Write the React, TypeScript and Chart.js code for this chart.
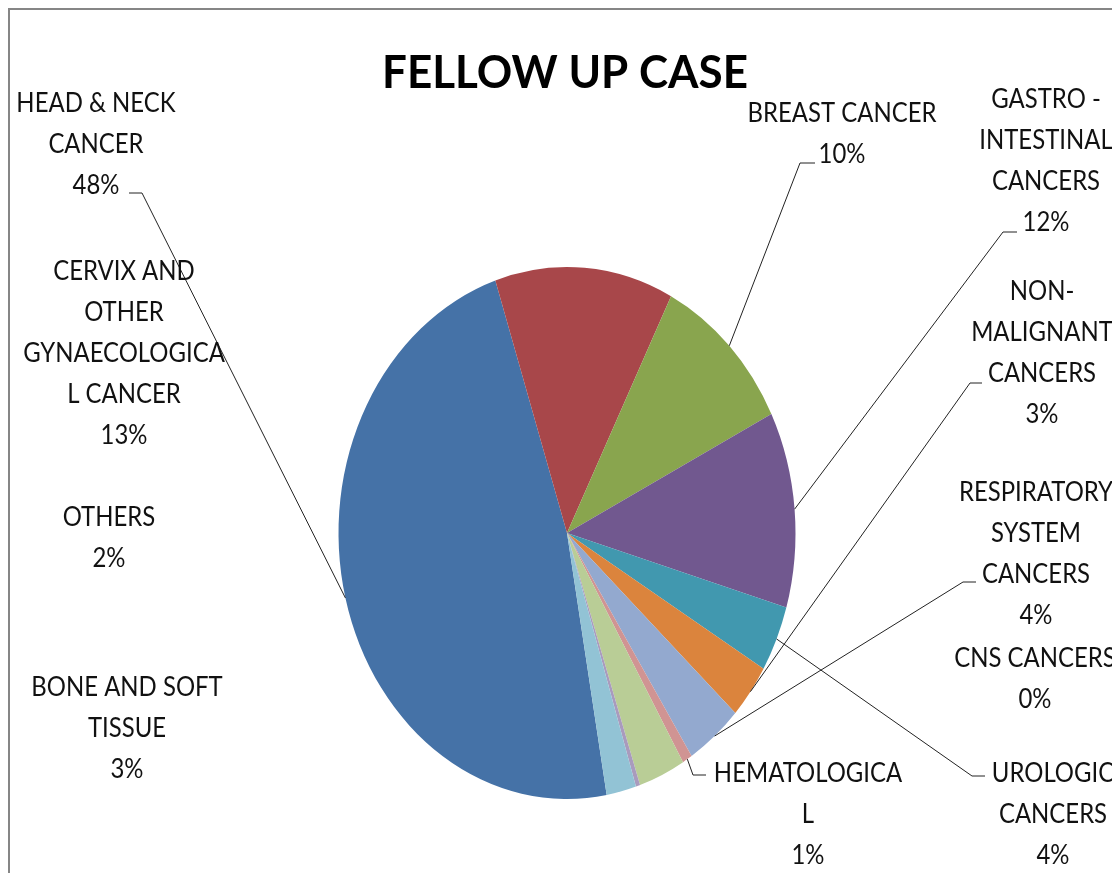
import { useEffect, useRef } from "react";
import { Chart, registerables } from "chart.js";

Chart.register(...registerables);

// ---- data ----
const title = "FELLOW UP CASE";
const categories = [
  "HEAD & NECK CANCER",
  "CERVIX AND OTHER GYNAECOLOGICAL CANCER",
  "BREAST CANCER",
  "GASTRO - INTESTINAL CANCERS",
  "UROLOGIC CANCERS",
  "NON-MALIGNANT CANCERS",
  "RESPIRATORY SYSTEM CANCERS",
  "HEMATOLOGICAL",
  "BONE AND SOFT TISSUE",
  "CNS CANCERS",
  "OTHERS",
];
// label text as wrapped in the original
const wrappedLabels = [
  ["HEAD & NECK", "CANCER"],
  ["CERVIX AND", "OTHER", "GYNAECOLOGICA", "L CANCER"],
  ["BREAST CANCER"],
  ["GASTRO -", "INTESTINAL", "CANCERS"],
  ["UROLOGIC", "CANCERS"],
  ["NON-", "MALIGNANT", "CANCERS"],
  ["RESPIRATORY", "SYSTEM", "CANCERS"],
  ["HEMATOLOGICA", "L"],
  ["BONE AND SOFT", "TISSUE"],
  ["CNS CANCERS"],
  ["OTHERS"],
];
const shares = [47.7, 12.6, 10.1, 11.9, 4.0, 3.3, 4.0, 0.7, 3.3, 0.3, 2.1];
const colors = [
  "#4572A7",
  "#A8474A",
  "#89A54E",
  "#71588F",
  "#4198AF",
  "#DB843D",
  "#93A9CF",
  "#D09493",
  "#B9CD96",
  "#A99BBD",
  "#92C3D5",
];

// ---- layout (positions of labels, not data) ----
const ELLIPSE_Y = 266 / 228.5;
const LINE_H = 41;
const SQUEEZE = 0.92;
type Place = { x: number; y: number; leader?: [number, number, number, number] };
const places: Place[] = [
  { x: 96, y: 103, leader: [142, 193, 129, 193] },
  { x: 124, y: 271 },
  { x: 842, y: 113, leader: [800, 163, 815, 163] },
  { x: 1046, y: 99, leader: [1003, 232, 1017, 232] },
  { x: 1053, y: 773, leader: [972, 776, 985, 776] },
  { x: 1042, y: 291, leader: [970, 383, 982, 383] },
  { x: 1036, y: 492, leader: [963, 582, 976, 582] },
  { x: 808, y: 773, leader: [693, 775, 706, 775] },
  { x: 127, y: 687 },
  { x: 1035, y: 658 },
  { x: 109, y: 517 },
];

const ellipsePlugin = {
  id: "ellipse",
  beforeDatasetsDraw(chart: any) {
    const arc = chart.getDatasetMeta(0).data[0];
    const ctx = chart.ctx;
    ctx.save();
    ctx.translate(arc.x, arc.y);
    ctx.scale(1, ELLIPSE_Y);
    ctx.translate(-arc.x, -arc.y);
  },
  afterDatasetsDraw(chart: any) {
    chart.ctx.restore();
  },
};

const labelsPlugin = {
  id: "excelLabels",
  afterDraw(chart: any) {
    const ctx: CanvasRenderingContext2D = chart.ctx;
    const W = chart.width;
    const H = chart.height;
    ctx.save();
    // frame
    ctx.strokeStyle = "#868686";
    ctx.lineWidth = 2;
    ctx.beginPath();
    ctx.moveTo(9, H + 5);
    ctx.lineTo(9, 9);
    ctx.lineTo(W + 5, 9);
    ctx.stroke();

    // title
    ctx.fillStyle = "#000";
    ctx.textAlign = "center";
    ctx.textBaseline = "alphabetic";
    ctx.font = "bold 46px Lato";
    ctx.fillText(title, 565, 71 + 16.5, 366);

    const total = shares.reduce((a, b) => a + b, 0);
    const meta = chart.getDatasetMeta(0);
    ctx.font = "26px Lato";
    ctx.fillStyle = "#111";
    wrappedLabels.forEach((lines, i) => {
      const p = places[i];
      const pct = Math.round((shares[i] / total) * 100) + "%";
      const all = [...lines, pct];
      all.forEach((t, k) => {
        const w = ctx.measureText(t).width;
        ctx.fillText(t, p.x, p.y + k * LINE_H + 9.3, w * SQUEEZE);
      });
      if (p.leader) {
        const arc = meta.data[i];
        const mid = (arc.startAngle + arc.endAngle) / 2;
        const ex = arc.x + Math.cos(mid) * arc.outerRadius;
        const ey = arc.y + Math.sin(mid) * arc.outerRadius * ELLIPSE_Y;
        ctx.strokeStyle = "#222";
        ctx.lineWidth = 1;
        ctx.beginPath();
        ctx.moveTo(ex, ey);
        ctx.lineTo(p.leader[0], p.leader[1]);
        ctx.lineTo(p.leader[2], p.leader[3]);
        ctx.stroke();
      }
    });
    ctx.restore();
  },
};

export default function App() {
  const ref = useRef<HTMLCanvasElement>(null);
  useEffect(() => {
    if (!ref.current) return;
    const chart = new Chart(ref.current, {
      type: "pie",
      data: {
        labels: categories,
        datasets: [
          {
            data: shares,
            backgroundColor: colors,
            borderWidth: 0,
            hoverOffset: 0,
          },
        ],
      },
      options: {
        responsive: false,
        animation: false,
        events: [],
        rotation: 170,
        radius: 228.5,
        layout: { padding: { left: 22, right: 0, top: 193, bottom: 0 } },
        plugins: {
          legend: { display: false },
          title: { display: false },
          tooltip: { enabled: false },
        },
      } as any,
      plugins: [ellipsePlugin, labelsPlugin],
    });
    return () => chart.destroy();
  }, []);
  return (
    <div style={{ position: "absolute", left: 0, top: 0, width: 1112, height: 873, overflow: "hidden", background: "#fff" }}>
      <canvas ref={ref} width={1112} height={873} />
    </div>
  );
}
